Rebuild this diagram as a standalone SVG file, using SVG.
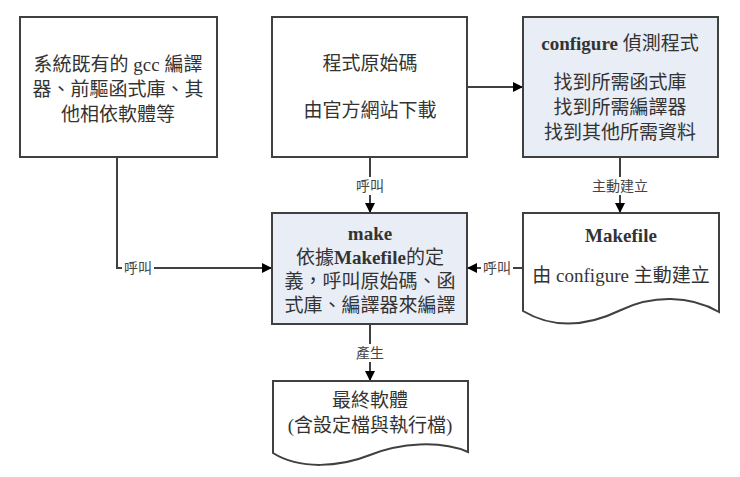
<svg xmlns="http://www.w3.org/2000/svg" width="740" height="477" viewBox="0 0 740 477">
<style>
.box{fill:#ffffff;stroke:#404040;stroke-width:2}
.blue{fill:#e9edf6}
.t{font-family:"Liberation Serif","Noto Sans CJK TC",serif;font-size:19px;fill:#333;text-anchor:middle}
.b{font-weight:bold}
.lbl{font-family:"Liberation Serif","Noto Sans CJK TC",serif;font-size:14px;fill:#444;text-anchor:middle}
.line{fill:none;stroke:#404040;stroke-width:2}
.bg{fill:#ffffff}
</style>
<defs>
<marker id="arr" viewBox="0 0 10 10" refX="10" refY="5" markerWidth="10" markerHeight="10" markerUnits="userSpaceOnUse" orient="auto">
<path d="M0,0 L10,5 L0,10 z" fill="#000"/>
</marker>
</defs>
<g id="connectors">
<polyline class="line" points="117,157 117,268 272,268" marker-end="url(#arr)"/>
<line class="line" x1="370" y1="157" x2="370" y2="213" marker-end="url(#arr)"/>
<line class="line" x1="467" y1="87" x2="523" y2="87" marker-end="url(#arr)"/>
<line class="line" x1="620" y1="157" x2="620" y2="213" marker-end="url(#arr)"/>
<line class="line" x1="523" y1="268" x2="467" y2="268" marker-end="url(#arr)"/>
<line class="line" x1="370" y1="324" x2="370" y2="381" marker-end="url(#arr)"/>
<rect class="bg" x="122" y="259" width="32" height="18"/>
<text class="lbl" x="138" y="273">呼叫</text>
<rect class="bg" x="354" y="177" width="32" height="18"/>
<text class="lbl" x="370" y="191">呼叫</text>
<rect class="bg" x="590" y="177" width="60" height="18"/>
<text class="lbl" x="620" y="191">主動建立</text>
<rect class="bg" x="481" y="259" width="32" height="18"/>
<text class="lbl" x="497" y="273">呼叫</text>
<rect class="bg" x="354" y="344" width="32" height="18"/>
<text class="lbl" x="370" y="358">產生</text>
</g>
<g id="system">
<rect class="box" x="20" y="17" width="197" height="140"/>
<text class="t" x="118" y="71">系統既有的 gcc 編譯</text>
<text class="t" x="118" y="96">器、前驅函式庫、其</text>
<text class="t" x="118" y="121">他相依軟體等</text>
</g>
<g id="source">
<rect class="box" x="272" y="17" width="195" height="140"/>
<text class="t" x="370" y="70">程式原始碼</text>
<text class="t" x="370" y="117">由官方網站下載</text>
</g>
<g id="configure">
<rect class="box blue" x="523" y="17" width="195" height="140"/>
<text class="t" x="620" y="50"><tspan class="b">configure</tspan> 偵測程式</text>
<text class="t" x="620" y="89">找到所需函式庫</text>
<text class="t" x="620" y="114">找到所需編譯器</text>
<text class="t" x="620" y="139">找到其他所需資料</text>
</g>
<g id="make">
<rect class="box blue" x="272" y="213" width="195" height="111"/>
<text class="t b" x="370" y="240">make</text>
<text class="t" x="370" y="264">依據<tspan class="b">Makefile</tspan>的定</text>
<text class="t" x="370" y="288">義，呼叫原始碼、函</text>
<text class="t" x="370" y="312">式庫、編譯器來編譯</text>
</g>
<g id="makefile">
<path class="box" d="M523,213 H719 V312 C690,295 652,295 621,310 C590,325 555,330 523,311 Z"/>
<text class="t b" x="621" y="242">Makefile</text>
<text class="t" x="621" y="282">由 configure 主動建立</text>
</g>
<g id="final">
<path class="box" d="M273,381 H468 V452 C440,440 400,443 370,455 C340,467 300,470 273,453 Z"/>
<text class="t" x="370" y="407">最終軟體</text>
<text class="t" x="370" y="432">(含設定檔與執行檔)</text>
</g>
</svg>
